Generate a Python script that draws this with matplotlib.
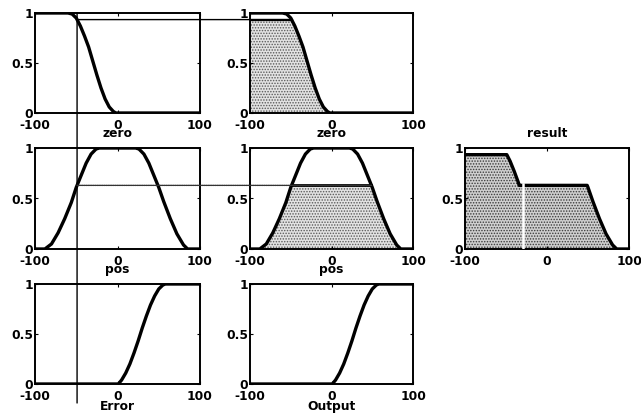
import numpy as np
import matplotlib
matplotlib.use("Agg")
import matplotlib.pyplot as plt
from matplotlib.patches import Rectangle, ConnectionPatch

# ---------------- data ----------------
input_error = -49          # crisp input (vertical line)

zero_x = [-100, -60, -55, -50, -45, -40, -35, -30, -25, -20, -15, -10, -5, -2, 100]
zero_y = [1, 1, 0.99, 0.95, 0.87, 0.77, 0.66, 0.52, 0.38, 0.25, 0.14, 0.06, 0.015, 0, 0]

pos_x = [-100, -88, -80, -72, -64, -56, -50, -44, -38, -32, -26, -22,
         22, 26, 32, 38, 44, 50, 56, 64, 72, 80, 85, 100]
pos_y = [0, 0, 0.05, 0.16, 0.30, 0.46, 0.61, 0.73, 0.85, 0.94, 0.99, 1,
         1, 0.99, 0.94, 0.85, 0.73, 0.61, 0.47, 0.30, 0.15, 0.04, 0, 0]

err_pos_x = [-100, 1, 5, 10, 15, 20, 25, 30, 35, 40, 45, 50, 55, 58, 100]
err_pos_y = [0, 0, 0.04, 0.11, 0.2, 0.31, 0.43, 0.56, 0.68, 0.79, 0.88, 0.95, 0.99, 1, 1]

xticks = [-100, 0, 100]
xtick_labels = ["-100", "0", "100"]
yticks = [0, 0.5, 1]
ytick_labels = ["0", "0.5", "1"]

row_labels = ["zero", "pos"]
bottom_labels = ["Error", "Output"]
result_title = "result"
seam_x = -29              # white seam visible in the result area

# ---------------- helpers ----------------
def degree(xs, ys, x0):
    return float(np.interp(x0, xs, ys))

def crossings(xs, ys, level):
    out = []
    for i in range(len(xs) - 1):
        y0, y1 = ys[i] - level, ys[i + 1] - level
        if y0 == 0:
            out.append(xs[i])
        elif y0 * y1 < 0:
            out.append(xs[i] + (xs[i + 1] - xs[i]) * (-y0) / (y1 - y0))
    return out

FONT = dict(family="DejaVu Sans", weight="bold", size=8.8)
plt.rcParams["font.family"] = "DejaVu Sans"
plt.rcParams["font.weight"] = "bold"
plt.rcParams["hatch.linewidth"] = 0.7

fig = plt.figure(figsize=(6.41, 4.19), dpi=100)
W, H = 641, 419

def add_ax(px_left, px_top, px_right, px_bottom):
    return fig.add_axes([px_left / W, 1 - px_bottom / H,
                         (px_right - px_left) / W, (px_bottom - px_top) / H])

cols = [(35, 200), (250, 413), (465, 629)]
rows = [(13, 113), (148, 249), (284, 384)]

def style(ax):
    ax.set_xlim(-100, 100)
    ax.set_ylim(0, 1)
    ax.set_xticks(xticks)
    ax.set_xticklabels(xtick_labels, fontdict=FONT)
    ax.set_yticks(yticks)
    ax.set_yticklabels(ytick_labels, fontdict=FONT)
    ax.tick_params(direction="in", length=2.5, width=0.8, top=True, right=True,
                   pad=1.5)
    ax.tick_params(axis="x", pad=4.5)
    for s in ax.spines.values():
        s.set_linewidth(1.4)

CURVE = dict(color="black", lw=2.4, solid_capstyle="butt")
FILL_LIGHT = dict(facecolor="#e2e2e2", hatch="......", edgecolor="#5a5a5a", linewidth=0)
FILL_DARK = dict(facecolor="#cfcfcf", hatch="......", edgecolor="#3a3a3a", linewidth=0)

mu_zero = degree(zero_x, zero_y, input_error)
mu_pos = degree(pos_x, pos_y, input_error)

axes = {}
for r in range(3):
    for c in range(3):
        if c == 2 and r != 1:
            continue
        ax = add_ax(cols[c][0], rows[r][0], cols[c][1], rows[r][1])
        style(ax)
        axes[(r, c)] = ax

# row 1 : zero -> zero
a1, a2 = axes[(0, 0)], axes[(0, 1)]
a1.plot(zero_x, zero_y, **CURVE)
a2.plot(zero_x, zero_y, **CURVE)
f = a2.fill_between(zero_x, zero_y, 0, **FILL_LIGHT, zorder=1)
f.set_clip_path(Rectangle((-100, 0), 200, mu_zero, transform=a2.transData))
x_end_zero = crossings(zero_x, zero_y, mu_zero)[-1]
a2.plot([-100, x_end_zero], [mu_zero, mu_zero], color="black", lw=1.6)
for ax in (a1, a2):
    ax.set_xlabel(row_labels[0], fontdict=FONT, labelpad=-4)

# row 2 : pos -> pos
b1, b2 = axes[(1, 0)], axes[(1, 1)]
b1.plot(pos_x, pos_y, **CURVE)
b2.plot(pos_x, pos_y, **CURVE)
f = b2.fill_between(pos_x, pos_y, 0, **FILL_LIGHT, zorder=1)
f.set_clip_path(Rectangle((-100, 0), 200, mu_pos, transform=b2.transData))
pc = crossings(pos_x, pos_y, mu_pos)
b2.plot([pc[0], pc[-1]], [mu_pos, mu_pos], color="black", lw=2.0)
for ax in (b1, b2):
    ax.set_xlabel(row_labels[1], fontdict=FONT, labelpad=-4)

# row 3 : pos (Error) -> pos (Output), no firing
c1, c2 = axes[(2, 0)], axes[(2, 1)]
c1.plot(err_pos_x, err_pos_y, **CURVE)
c2.plot(err_pos_x, err_pos_y, **CURVE)
c1.set_xlabel(bottom_labels[0], fontdict=FONT, labelpad=-2)
c2.set_xlabel(bottom_labels[1], fontdict=FONT, labelpad=-2)

# result : aggregation (max of clipped sets)
ar = axes[(1, 2)]
grid = sorted(set(zero_x + pos_x + crossings(zero_x, zero_y, mu_zero)
                  + crossings(pos_x, pos_y, mu_pos)
                  + crossings(zero_x, zero_y, mu_pos)))
grid = np.array(grid)
agg = np.maximum(np.minimum(np.interp(grid, zero_x, zero_y), mu_zero),
                 np.minimum(np.interp(grid, pos_x, pos_y), mu_pos))
ar.fill_between(grid, agg, 0, **FILL_DARK, zorder=1)
ar.plot(grid, agg, **CURVE)
ar.plot([seam_x, seam_x], [0, mu_pos + 0.015], color="white", lw=1.8, zorder=3)
ar.set_title(result_title, fontdict=FONT, pad=8)

# connecting lines (input and firing levels)
con = ConnectionPatch(xyA=(input_error, 1.0), coordsA=a1.transData,
                      xyB=(input_error, -0.19), coordsB=c1.transData,
                      color="black", lw=1.0)
fig.add_artist(con)
con = ConnectionPatch(xyA=(input_error, mu_zero), coordsA=a1.transData,
                      xyB=(x_end_zero, mu_zero), coordsB=a2.transData,
                      color="black", lw=1.0)
fig.add_artist(con)
con = ConnectionPatch(xyA=(input_error, mu_pos), coordsA=b1.transData,
                      xyB=(pc[-1], mu_pos), coordsB=b2.transData,
                      color="#333333", lw=1.0, linestyle=(0, (1, 0.6)))
fig.add_artist(con)

fig.savefig("out.png", dpi=100, facecolor="white")
